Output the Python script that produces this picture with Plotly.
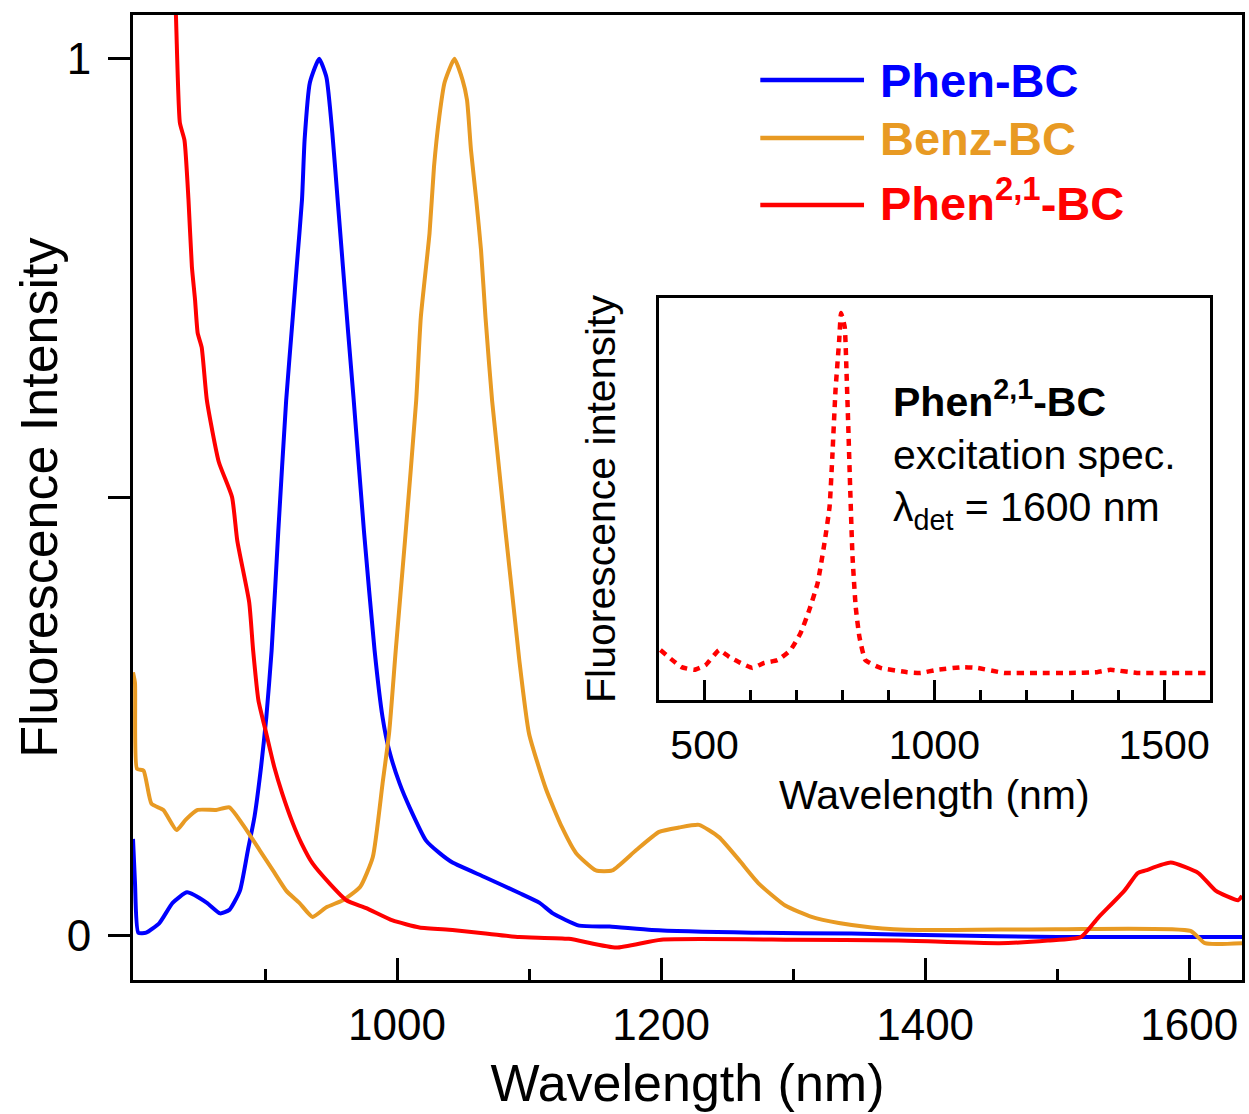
import plotly.graph_objects as go

# ---------------- data ----------------
wl_blue = [800, 801.5, 804, 810, 820, 830, 841, 856, 866, 873, 881, 887, 892, 897, 901, 905, 910,
           916, 921, 924, 928, 930, 934, 941, 946.5, 951, 955, 959, 963, 967, 975, 983, 989, 994,
           1002, 1009.5, 1022, 1032, 1042, 1067, 1093, 1108, 1118, 1138, 1161, 1193, 1269, 1344,
           1410, 1500, 1640]
int_blue = [0.11, 0.06, 0.003, 0.003, 0.014, 0.037, 0.049, 0.037, 0.025, 0.029, 0.051, 0.097,
            0.135, 0.192, 0.249, 0.325, 0.46, 0.61, 0.705, 0.763, 0.839, 0.908, 0.973, 1.0, 0.979,
            0.915, 0.839, 0.763, 0.687, 0.614, 0.46, 0.325, 0.249, 0.211, 0.173, 0.146, 0.108,
            0.094, 0.083, 0.066, 0.048, 0.037, 0.025, 0.011, 0.010, 0.006, 0.003, 0.002, 0.0,
            -0.002, -0.002]

wl_benz = [800, 801.5, 803, 808, 814, 823, 833, 840, 849, 863, 873, 886, 896, 906, 916, 926, 936,
           946.5, 959, 972, 981.6, 989, 994, 999, 1006, 1014.5, 1018, 1024.6, 1028, 1032, 1036,
           1043.5, 1049.6, 1053, 1056, 1060, 1063.6, 1067, 1072, 1092.6, 1100, 1113, 1125, 1135.5,
           1150.6, 1163, 1181, 1198.5, 1213.6, 1228.7, 1243.8, 1259, 1274, 1294, 1314, 1334.6,
           1359.5, 1395, 1500, 1601, 1612, 1640]
int_benz = [0.30, 0.288, 0.19, 0.188, 0.15, 0.143, 0.12, 0.132, 0.143, 0.143, 0.146, 0.12, 0.097,
            0.074, 0.051, 0.037, 0.021, 0.032, 0.04, 0.055, 0.089, 0.173, 0.231, 0.325, 0.45,
            0.61, 0.705, 0.801, 0.877, 0.934, 0.973, 1.0, 0.976, 0.953, 0.896, 0.839, 0.782,
            0.705, 0.61, 0.314, 0.23, 0.166, 0.123, 0.094, 0.074, 0.074, 0.097, 0.118, 0.123,
            0.126, 0.112, 0.086, 0.059, 0.034, 0.021, 0.014, 0.009, 0.006, 0.007, 0.005, -0.009,
            -0.009]

wl_phen21 = [800, 825, 832.5, 835.5, 839, 842, 844.6, 847, 849, 852, 856, 865, 875, 879, 888, 891,
             895, 901, 907, 913, 921, 927.6, 936, 949, 961.6, 976.7, 996.6, 1017, 1042, 1067,
             1092.6, 1130, 1166, 1200, 1300, 1380, 1456, 1493, 1518, 1531, 1551, 1561, 1567, 1586,
             1607, 1620, 1637, 1640]
int_phen21 = [2.0, 1.35, 1.05, 0.927, 0.907, 0.84, 0.763, 0.725, 0.687, 0.671, 0.61, 0.54, 0.5,
              0.45, 0.38, 0.325, 0.268, 0.23, 0.192, 0.162, 0.128, 0.105, 0.082, 0.059, 0.04,
              0.031, 0.017, 0.009, 0.006, 0.002, -0.002, -0.004, -0.014, -0.005, -0.005, -0.006,
              -0.009, -0.006, -0.002, 0.02, 0.051, 0.071, 0.074, 0.083, 0.071, 0.051, 0.04, 0.045]

# inset: excitation spectrum of Phen2,1-BC (lambda_det = 1600 nm)
wl_exc = [404, 450, 478, 502, 532, 554, 578, 604, 630, 659, 687, 709, 728, 746, 761, 772, 778,
          785, 793, 797, 805, 809, 813, 817, 822, 829, 837, 850, 883, 941, 970, 1006, 1064, 1093,
          1152, 1224, 1296, 1354, 1383, 1441, 1513, 1590]
int_exc = [0.129, 0.085, 0.078, 0.090, 0.129, 0.111, 0.096, 0.083, 0.096, 0.103, 0.129, 0.173,
           0.233, 0.302, 0.406, 0.499, 0.628, 0.801, 0.930, 1.0, 0.964, 0.845, 0.698, 0.543,
           0.370, 0.240, 0.163, 0.103, 0.083, 0.072, 0.070, 0.078, 0.085, 0.083, 0.070, 0.070,
           0.070, 0.072, 0.078, 0.070, 0.070, 0.070]

main_xticks = [1000, 1200, 1400, 1600]
main_xminor = [900, 1100, 1300, 1500]
inset_xticks = [500, 1000, 1500]
inset_xminor = [600, 700, 800, 900, 1100, 1200, 1300, 1400]

BLUE = "#0000FF"
ORANGE = "#E89A23"
RED = "#FF0000"
FONT = "Liberation Sans, Arial, sans-serif"

# ---------------- figure ----------------
W, H = 1249, 1114
ML, MR, MT, MB = 133, 4, 15, 134
PW, PH = W - ML - MR, H - MT - MB


def px(x):
    return (x - ML) / PW


def py(y):
    return (H - MB - y) / PH


fig = go.Figure()
line_kw = dict(width=4, shape="spline", smoothing=0.5)
fig.add_trace(go.Scatter(x=wl_blue, y=int_blue, mode="lines", line=dict(color=BLUE, **line_kw),
                         name="Phen-BC", xaxis="x", yaxis="y"))
fig.add_trace(go.Scatter(x=wl_benz, y=int_benz, mode="lines", line=dict(color=ORANGE, **line_kw),
                         name="Benz-BC", xaxis="x", yaxis="y"))
fig.add_trace(go.Scatter(x=wl_phen21, y=int_phen21, mode="lines",
                         line=dict(color=RED, **line_kw),
                         name="Phen2,1-BC", xaxis="x", yaxis="y"))
fig.add_trace(go.Scatter(x=wl_exc, y=int_exc, mode="lines",
                         line=dict(color=RED, width=4.5, dash="7px,6px", shape="spline",
                                   smoothing=0.4),
                         name="excitation", xaxis="x2", yaxis="y2"))

axis_common = dict(showline=True, linecolor="black", linewidth=3, mirror=True,
                   showgrid=False, zeroline=False, tickcolor="black", tickwidth=3)

fig.update_layout(
    width=W, height=H,
    margin=dict(l=ML, r=MR, t=MT, b=MB),
    paper_bgcolor="white", plot_bgcolor="white",
    showlegend=False,
    font=dict(family=FONT, color="black"),
    xaxis=dict(domain=[0, 1], range=[800, 1640], ticks="inside", ticklen=22,
               tickvals=main_xticks, ticktext=[str(v) for v in main_xticks],
               minor=dict(tickvals=main_xminor, ticks="inside", ticklen=11,
                          tickwidth=3, tickcolor="black"),
               tickfont=dict(size=44, family=FONT), ticklabelstandoff=4,
               title=dict(text="Wavelength (nm)", font=dict(size=52, family=FONT), standoff=17),
               **axis_common),
    yaxis=dict(domain=[0, 1], range=[-0.051, 1.05], ticks="outside", ticklen=22,
               tickvals=[0, 1], ticktext=["0", "1"],
               minor=dict(tickvals=[0.5], ticks="outside", ticklen=22, tickwidth=3,
                          tickcolor="black"),
               tickfont=dict(size=44, family=FONT), ticklabelstandoff=8,
               **axis_common),
    xaxis2=dict(domain=[px(660), px(1213)], anchor="y2", range=[400, 1600], ticks="inside",
                ticklen=20, tickvals=inset_xticks, ticktext=[str(v) for v in inset_xticks],
                minor=dict(tickvals=inset_xminor, ticks="inside", ticklen=10, tickwidth=3,
                           tickcolor="black"),
                tickfont=dict(size=41, family=FONT), ticklabelstandoff=7,
                title=dict(text="Wavelength (nm)", font=dict(size=41, family=FONT), standoff=14),
                **axis_common),
    yaxis2=dict(domain=[py(700), py(298)], anchor="x2", range=[0, 1.039], ticks="",
                showticklabels=False,
                title=dict(text="Fluorescence intensity", font=dict(size=41, family=FONT),
                           standoff=28),
                **axis_common),
)

# main y-axis title
fig.add_annotation(xref="paper", yref="paper", x=px(38), y=0.5, xanchor="center",
                   yanchor="middle", textangle=-90, showarrow=False,
                   text="Fluorescence Intensity", font=dict(size=52, color="black", family=FONT))

# legend drawn by hand (long line samples, coloured bold labels)
legend_items = [("Phen-BC", BLUE, 80, 80), ("Benz-BC", ORANGE, 138, 138),
                ("Phen<sup>2,1</sup>-BC", RED, 205, 200)]
for label, color, ypix, ytxt in legend_items:
    fig.add_shape(type="line", xref="paper", yref="paper", x0=px(762), x1=px(866),
                  y0=py(ypix), y1=py(ypix), line=dict(color=color, width=4.5))
    fig.add_annotation(xref="paper", yref="paper", x=px(880), y=py(ytxt), xanchor="left",
                       yanchor="middle", showarrow=False,
                       text=f"<b>{label}</b>", font=dict(size=47, color=color, family=FONT))

# inset annotation
inset_text = [("<b>Phen<sup>2,1</sup>-BC</b>", 399), ("excitation spec.", 455),
              ("λ<sub>det</sub> = 1600 nm", 510)]
for t, ypix in inset_text:
    fig.add_annotation(xref="paper", yref="paper", x=px(893), y=py(ypix), xanchor="left",
                       yanchor="middle", showarrow=False, text=t,
                       font=dict(size=41, color="black", family=FONT))

fig.write_html("out.html")
